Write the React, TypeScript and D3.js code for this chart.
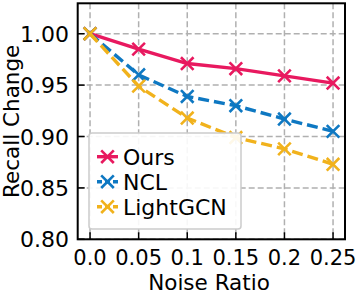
import React from 'react';
import * as d3 from 'd3';

const noiseRatios = [0.0, 0.05, 0.1, 0.15, 0.2, 0.25];
const xTickLabels = ['0.0', '0.05', '0.1', '0.15', '0.2', '0.25'];
const yTicks = [0.8, 0.85, 0.9, 0.95, 1.0];
const oursValues = [1.0, 0.985, 0.971, 0.966, 0.959, 0.952];
const nclValues = [1.0, 0.96, 0.939, 0.93, 0.917, 0.905];
const lightgcnValues = [1.0, 0.949, 0.918, 0.899, 0.888, 0.873];
const seriesNames = ['Ours', 'NCL', 'LightGCN'];

const W = 356, H = 297;
const left = 77.7, right = 345, top = 3.3, bottom = 239.3;
const font = 'DejaVu Sans, sans-serif';

const series = [
  { name: seriesNames[0], values: oursValues, color: '#e8195f', dash: null },
  { name: seriesNames[1], values: nclValues, color: '#0e78c2', dash: '11,5' },
  { name: seriesNames[2], values: lightgcnValues, color: '#f1b21c', dash: '11,5' },
];

const Cross = ({ x, y, color, r = 6.3 }: { x: number; y: number; color: string; r?: number }) => (
  <path d={`M${x - r},${y - r}L${x + r},${y + r}M${x - r},${y + r}L${x + r},${y - r}`} stroke={color} strokeWidth={2.6} />
);

export default function App() {
  const x = d3.scaleLinear().domain([-0.0127, 0.2623]).range([left, right]);
  const y = d3.scaleLinear().domain([0.8, 1.0296]).range([bottom, top]);
  const line = d3.line<number>().x((_, i) => x(noiseRatios[i])).y(d => y(d));

  const legX = 89, legY = 133, legW = 152, legH = 96;

  return (
    <svg width={W} height={H} style={{ position: 'absolute', left: 0, top: 0 }} fontFamily={font}>
      <rect width={W} height={H} fill="#fff" />
      {/* grid */}
      <g stroke="#b0b0b0" strokeWidth={1.5} strokeDasharray="6,3">
        {noiseRatios.map(v => <line key={'gx' + v} x1={x(v)} x2={x(v)} y1={top} y2={bottom} />)}
        {yTicks.map(v => <line key={'gy' + v} x1={left} x2={right} y1={y(v)} y2={y(v)} />)}
      </g>
      {/* series */}
      {series.map(s => (
        <g key={s.name}>
          <path d={line(s.values) || ''} fill="none" stroke={s.color} strokeWidth={3.4}
            strokeDasharray={s.dash || undefined} />
          {s.values.map((v, i) => <Cross key={i} x={x(noiseRatios[i])} y={y(v)} color={s.color} />)}
        </g>
      ))}
      {/* legend */}
      <rect x={legX} y={legY} width={legW} height={legH} rx={3} fill="#fff" fillOpacity={0.9} stroke="#cccccc" strokeWidth={1.5} />
      {series.map((s, i) => {
        const cy = 156.7 + i * 25;
        return (
          <g key={'leg' + s.name}>
            <line x1={97} x2={118} y1={cy} y2={cy} stroke={s.color} strokeWidth={3.4} strokeDasharray={s.dash ? '5,3' : undefined} />
            <Cross x={107.5} y={cy} color={s.color} />
            <text x={123} y={cy + 8} fontSize={22} fill="#000">{s.name}</text>
          </g>
        );
      })}
      {/* ticks */}
      <g stroke="#000" strokeWidth={1.5}>
        {noiseRatios.map(v => <line key={'tx' + v} x1={x(v)} x2={x(v)} y1={bottom} y2={bottom - 7} />)}
        {yTicks.map(v => <line key={'ty' + v} x1={left} x2={left + 7} y1={y(v)} y2={y(v)} />)}
      </g>
      <rect x={left} y={top} width={right - left} height={bottom - top} fill="none" stroke="#000" strokeWidth={2} />
      {noiseRatios.map((v, i) => (
        <text key={'lx' + v} x={x(v)} y={265} fontSize={21} textAnchor="middle">{xTickLabels[i]}</text>
      ))}
      {yTicks.map(v => (
        <text key={'ly' + v} x={69} y={y(v) + 8} fontSize={22} textAnchor="end">{v.toFixed(2)}</text>
      ))}
      <text x={209} y={289.5} fontSize={21.5} textAnchor="middle">Noise Ratio</text>
      <text transform={`translate(19,${(top + bottom) / 2}) rotate(-90)`} fontSize={21.5} textAnchor="middle">Recall Change</text>
    </svg>
  );
}
